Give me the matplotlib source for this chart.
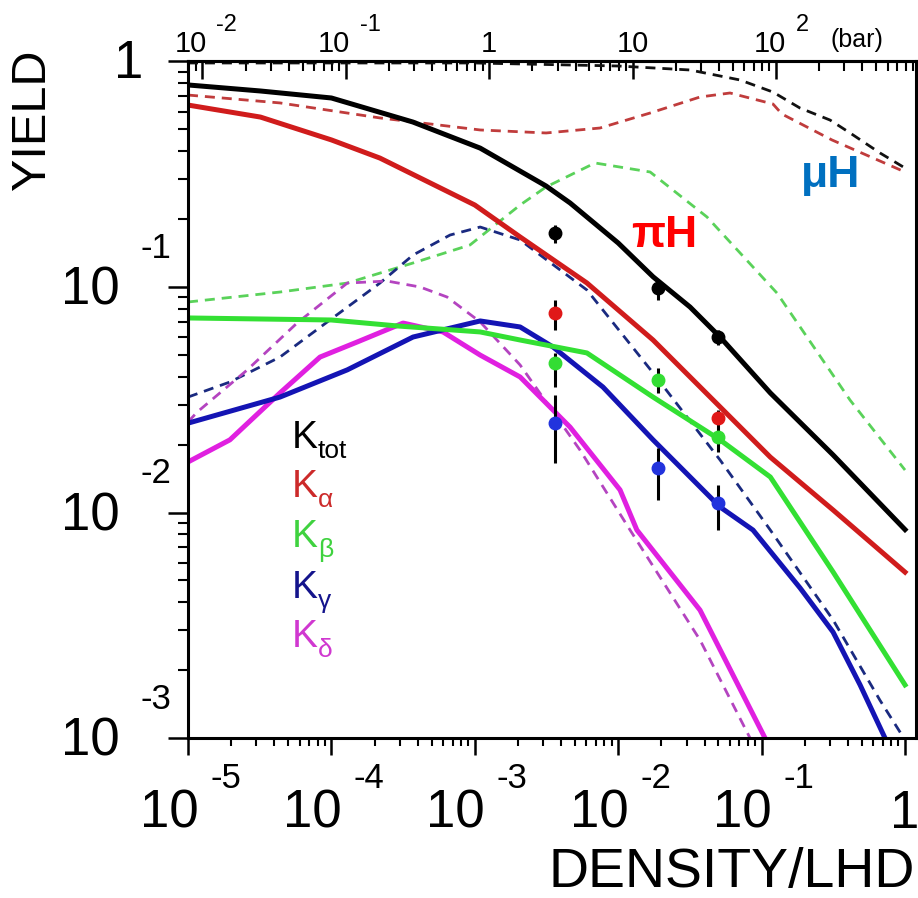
import matplotlib
matplotlib.use("Agg")
import matplotlib.pyplot as plt
from matplotlib.transforms import offset_copy, blended_transform_factory
from matplotlib.ticker import LogLocator, NullFormatter

plt.rcParams['font.family'] = ['Liberation Sans', 'DejaVu Sans']

# conversion of pressure (bar) to density in units of liquid hydrogen density
BAR_TO_LHD = 1.26e-3

# ---- pionic hydrogen (solid lines) ----
tot_d = [1e-5, 3.2e-5, 1e-4, 3.7e-4, 1.09e-3, 3.14e-3, 4.62e-3, 1e-2, 1.75e-2, 3.17e-2, 5.13e-2, 0.115, 0.315, 1.0]
tot_y = [0.787, 0.740, 0.689, 0.539, 0.413, 0.2805, 0.2358, 0.1567, 0.111, 0.0815, 0.060, 0.0339, 0.0180, 0.0084]

alpha_d = [1e-5, 3.2e-5, 1e-4, 2.18e-4, 1e-3, 2.07e-3, 6.05e-3, 1.75e-2, 5.13e-2, 0.115, 0.315, 1.0]
alpha_y = [0.641, 0.567, 0.449, 0.373, 0.231, 0.1667, 0.1042, 0.0582, 0.0294, 0.0176, 0.01026, 0.00544]

beta_d = [1e-5, 1e-4, 2.87e-4, 1.09e-3, 2.07e-3, 6.05e-3, 1.75e-2, 5.13e-2, 0.115, 0.315, 1.0]
beta_y = [0.0729, 0.0714, 0.0672, 0.0632, 0.0582, 0.0510, 0.0325, 0.0210, 0.01437, 0.00545, 0.00172]

gamma_d = [1e-5, 4.38e-5, 1.29e-4, 3.71e-4, 1.09e-3, 2.07e-3, 3.51e-3, 7.83e-3, 1.75e-2, 5.13e-2, 8.71e-2, 0.1853, 0.315, 0.486, 0.725, 1.0]
gamma_y = [0.0249, 0.0325, 0.0429, 0.0600, 0.0707, 0.0665, 0.0542, 0.0360, 0.0210, 0.01058, 0.00836, 0.00463, 0.00295, 0.00172, 0.001, 0.00072]

delta_d = [1e-5, 1.96e-5, 4.38e-5, 8.33e-5, 1.51e-4, 3.16e-4, 6.0e-4, 1.09e-3, 2.07e-3, 4.62e-3, 1.03e-2, 1.35e-2, 3.72e-2, 0.1056, 0.134]
delta_y = [0.01675, 0.0210, 0.0339, 0.0489, 0.0570, 0.0692, 0.0632, 0.0499, 0.0399, 0.0239, 0.01259, 0.00836, 0.00369, 0.001, 0.000686]

# ---- muonic hydrogen (dashed lines) ----
mu_tot_d = [1e-5, 1e-3, 1e-2, 3.17e-2, 7.07e-2, 0.120, 0.185, 0.300, 0.414, 0.669, 1.0]
mu_tot_y = [0.985, 0.985, 0.955, 0.917, 0.828, 0.732, 0.622, 0.550, 0.482, 0.393, 0.337]

mu_alpha_d = [1e-5, 4.38e-5, 2.18e-4, 1.09e-3, 3.14e-3, 7.46e-3, 1.67e-2, 3.72e-2, 6.02e-2, 0.120, 0.1385, 0.309, 1.0]
mu_alpha_y = [0.710, 0.655, 0.562, 0.497, 0.482, 0.507, 0.591, 0.696, 0.725, 0.648, 0.585, 0.449, 0.3236]

mu_beta_d = [1e-5, 4.38e-5, 1.29e-4, 3.71e-4, 9.26e-4, 2.07e-3, 3.14e-3, 6.89e-3, 1.67e-2, 4.16e-2, 0.128, 0.414, 1.0]
mu_beta_y = [0.0858, 0.0950, 0.1041, 0.1278, 0.1536, 0.231, 0.2777, 0.3548, 0.3236, 0.2044, 0.0940, 0.0315, 0.01543]

mu_gamma_d = [1e-5, 1.96e-5, 4.38e-5, 9.77e-5, 2.18e-4, 3.71e-4, 6.72e-4, 1.09e-3, 2.07e-3, 6.05e-3, 1.75e-2, 5.13e-2, 0.115, 0.315, 0.669, 1.0]
mu_gamma_y = [0.0325, 0.0379, 0.0489, 0.0714, 0.1041, 0.1386, 0.170, 0.1845, 0.1616, 0.0970, 0.0416, 0.0171, 0.00836, 0.00334, 0.00147, 0.00098]

mu_delta_d = [1e-5, 1.16e-5, 2.58e-5, 5.76e-5, 1.29e-4, 2.44e-4, 4.15e-4, 6.40e-4, 1.09e-3, 2.07e-3, 5.42e-3, 1.21e-2, 3.72e-2, 8.30e-2, 0.1056]
mu_delta_y = [0.0252, 0.0279, 0.0428, 0.0692, 0.1041, 0.1063, 0.100, 0.0903, 0.070, 0.0451, 0.0189, 0.00836, 0.00272, 0.001, 0.000686]

# ---- measured yields ----
meas_d = [3.6e-3, 1.9e-2, 5.0e-2]
meas_tot = [0.174, 0.099, 0.060]
meas_tot_lo = [0.157, 0.0876, 0.0553]
meas_tot_hi = [0.188, 0.1074, 0.0645]
meas_alpha_d = [3.6e-3, 5.0e-2]
meas_alpha = [0.0767, 0.0262]
meas_alpha_lo = [0.0645, 0.0228]
meas_alpha_hi = [0.0876, 0.0285]
meas_beta = [0.0460, 0.0387, 0.0216]
meas_beta_lo = [0.0360, 0.0339, 0.01855]
meas_beta_hi = [0.0510, 0.0437, 0.0232]
meas_gamma = [0.0249, 0.01575, 0.01102]
meas_gamma_lo = [0.01658, 0.01136, 0.00836]
meas_gamma_hi = [0.0332, 0.0194, 0.01324]

# ---- axis tick labels ----
x_ticks = [1e-5, 1e-4, 1e-3, 1e-2, 1e-1, 1.0]
x_exps = ['-5', '-4', '-3', '-2', '-1', None]
y_ticks = [1e-3, 1e-2, 1e-1, 1.0]
y_exps = ['-3', '-2', '-1', None]
bar_ticks = [1e-2, 1e-1, 1.0, 10.0, 100.0]
bar_bases = ['10', '10', '1', '10', '10']
bar_exps = ['-2', '-1', None, None, '2']

legend_labels = [('K', 'tot'), ('K', 'α'), ('K', 'β'), ('K', 'γ'), ('K', 'δ')]
legend_colors = ['#000000', '#cc2a2a', '#3fd23f', '#14148c', '#d038d0']

fig = plt.figure(figsize=(9.18, 8.98), dpi=100)
ax = fig.add_axes([188 / 918, 160 / 898, 728 / 918, 676.5 / 898])
ax.set_xscale('log')
ax.set_yscale('log')
ax.set_xlim(1e-5, 1.193)
ax.set_ylim(1e-3, 1.0)

solid_lw = 3.6
dash_lw = 2.0
dash = (0, (3.6, 2.5))

ax.plot(mu_tot_d, mu_tot_y, color='#111111', lw=dash_lw, ls=dash)
ax.plot(mu_alpha_d, mu_alpha_y, color='#c03c3c', lw=dash_lw, ls=dash)
ax.plot(mu_beta_d, mu_beta_y, color='#5ad25a', lw=dash_lw, ls=dash)
ax.plot(mu_gamma_d, mu_gamma_y, color='#1a2a80', lw=dash_lw, ls=dash)
ax.plot(mu_delta_d, mu_delta_y, color='#b444c0', lw=dash_lw, ls=dash)

ax.plot(delta_d, delta_y, color='#e020e0', lw=solid_lw)
ax.plot(gamma_d, gamma_y, color='#1414b4', lw=solid_lw)
ax.plot(beta_d, beta_y, color='#33e033', lw=solid_lw)
ax.plot(alpha_d, alpha_y, color='#d01c1c', lw=solid_lw)
ax.plot(tot_d, tot_y, color='#000000', lw=solid_lw)


def measured(xs, ys, lo, hi, color):
    err = [[y - l for y, l in zip(ys, lo)], [h - y for y, h in zip(ys, hi)]]
    ax.errorbar(xs, ys, yerr=err, fmt='o', ms=9, color=color, mec=color,
                ecolor='black', elinewidth=2.2, capsize=0, zorder=5)


measured(meas_d, meas_tot, meas_tot_lo, meas_tot_hi, '#000000')
measured(meas_alpha_d, meas_alpha, meas_alpha_lo, meas_alpha_hi, '#e01818')
measured(meas_d, meas_beta, meas_beta_lo, meas_beta_hi, '#33dd33')
measured(meas_d, meas_gamma, meas_gamma_lo, meas_gamma_hi, '#2233dd')

# ---- frame and ticks ----
for side in ['left', 'bottom', 'top', 'right']:
    ax.spines[side].set_linewidth(2.2)
ax.xaxis.set_major_locator(LogLocator(base=10, numticks=20))
ax.xaxis.set_minor_locator(LogLocator(base=10, subs=range(2, 10), numticks=50))
ax.yaxis.set_major_locator(LogLocator(base=10, numticks=20))
ax.yaxis.set_minor_locator(LogLocator(base=10, subs=range(2, 10), numticks=50))
ax.xaxis.set_minor_formatter(NullFormatter())
ax.yaxis.set_minor_formatter(NullFormatter())
ax.tick_params(axis='x', which='major', direction='out', length=12.2, width=1.8,
               bottom=True, top=False, labelbottom=False)
ax.tick_params(axis='x', which='minor', direction='out', length=5.8, width=1.5,
               bottom=True, top=False)
ax.tick_params(axis='y', which='major', direction='out', length=14.4, width=1.8,
               left=True, right=False, labelleft=False)
ax.tick_params(axis='y', which='minor', direction='out', length=7.2, width=1.5,
               left=True, right=False)

top = ax.secondary_xaxis('top', functions=(lambda d: d / BAR_TO_LHD, lambda b: b * BAR_TO_LHD))
top.xaxis.set_major_locator(LogLocator(base=10, numticks=20))
top.xaxis.set_minor_locator(LogLocator(base=10, subs=range(2, 10), numticks=50))
top.xaxis.set_minor_formatter(NullFormatter())
top.tick_params(axis='x', which='major', direction='in', length=13, width=1.8, labeltop=False)
top.tick_params(axis='x', which='minor', direction='in', length=7.2, width=1.5)
top.spines['top'].set_linewidth(2.2)


def put(x, y, s, dx, dy, size, ha, kind='x', **kw):
    if kind == 'x':
        base = blended_transform_factory(ax.transData, ax.transAxes)
    else:
        base = blended_transform_factory(ax.transAxes, ax.transData)
    tr = offset_copy(base, fig=fig, x=dx, y=dy, units='dots')
    ax.text(x, y, s, transform=tr, fontsize=size, ha=ha, va='baseline',
            clip_on=False, **kw)


# bottom labels
for xv, ex in zip(x_ticks, x_exps):
    if ex is None:
        put(xv, 0, '1', 0, -90, 38, 'center')
    else:
        put(xv, 0, '10', -19, -90, 38, 'center')
        put(xv, 0, ex, 22, -50, 25, 'left')

# left labels
for yv, ex in zip(y_ticks, y_exps):
    if ex is None:
        put(0, yv, '1', -59, -17, 38, 'center', kind='y')
    else:
        put(0, yv, '10', -68, -18, 38, 'right', kind='y')
        put(0, yv, ex, -48, 29, 25, 'left', kind='y')

# top (pressure) labels
for bv, bs, ex in zip(bar_ticks, bar_bases, bar_exps):
    xv = bv * BAR_TO_LHD
    if ex is None:
        put(xv, 1, bs, 0, 9, 21, 'center')
    else:
        dx = -6 * len(ex)
        put(xv, 1, bs, dx, 9, 21, 'center')
        put(xv, 1, ex, dx + 26, 30, 17, 'left')
put(bar_ticks[-1] * BAR_TO_LHD, 1, '(bar)', 54, 14, 18, 'left')

fig.text(33 / 918, 1 - 120 / 898, 'YIELD', rotation=90, fontsize=35,
         ha='center', va='center')
fig.text(915 / 918, 1 - 887 / 898, 'DENSITY/LHD', fontsize=40,
         ha='right', va='baseline')

# atom labels
ax.text(0.654, 0.7258, 'πH', transform=ax.transAxes, color='#ff0000',
        fontsize=32, fontweight='bold', ha='center', va='baseline')
ax.text(0.883, 0.8145, 'μH', transform=ax.transAxes, color='#0070c0',
        fontsize=32, fontweight='bold', ha='center', va='baseline')

# line labels
legend_base = [0.4287, 0.3562, 0.2823, 0.2069, 0.1345]
for (main, sub), col, yb in zip(legend_labels, legend_colors, legend_base):
    tr = ax.transAxes
    ax.text(0.1429, yb, main, transform=tr, color=col, fontsize=28,
            ha='left', va='baseline')
    tr2 = offset_copy(tr, fig=fig, x=26, y=-10, units='dots')
    ax.text(0.1429, yb, sub, transform=tr2, color=col, fontsize=19,
            ha='left', va='baseline')

fig.savefig('out.png', dpi=100)
